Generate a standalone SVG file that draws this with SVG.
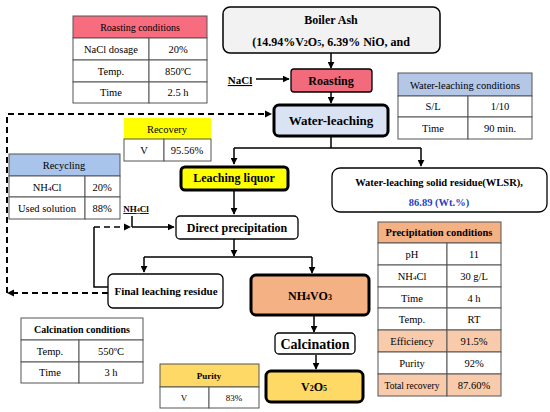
<svg xmlns="http://www.w3.org/2000/svg" width="550" height="412" viewBox="0 0 550 412">
<defs>
<marker id="ah" viewBox="0 0 10 10" refX="9" refY="5" markerWidth="7" markerHeight="7" markerUnits="userSpaceOnUse" orient="auto"><path d="M0,0 L10,5 L0,10 z" fill="#000"/></marker>
<style>
text{font-family:"Liberation Serif","Times New Roman",serif;fill:#000;text-anchor:middle}
.b{font-weight:bold;font-size:12px}
.t{font-size:10.5px}
.tb{font-size:10.5px;font-weight:bold}
.node{stroke:#000;stroke-width:1.3}
.thick{stroke:#000;stroke-width:3}
.cell{fill:#fff;stroke:#555;stroke-width:1}
.ln{fill:none;stroke:#000;stroke-width:1.5}
.dash{fill:none;stroke:#000;stroke-width:2;stroke-dasharray:6,4}
</style>
</defs>
<rect width="550" height="412" fill="#fff"/>

<g id="connectors">
<line class="ln" x1="331" y1="53" x2="331" y2="68" marker-end="url(#ah)"/>
<line class="ln" x1="256" y1="79" x2="289" y2="79" marker-end="url(#ah)"/>
<line class="ln" x1="331" y1="92" x2="331" y2="103" marker-end="url(#ah)"/>
<path class="dash" d="M108,293 H8 M7,293 V114 H270"/>
<path d="M272,114 l-7,-3.5 v7 z"/>
<path d="M7,293 l7,-3.5 v7 z"/>
<path class="ln" d="M331,137 V148 M234,148 H421"/>
<line class="ln" x1="234" y1="148" x2="234" y2="164" marker-end="url(#ah)"/>
<line class="ln" x1="421" y1="148" x2="421" y2="166" marker-end="url(#ah)"/>
<line class="ln" x1="234" y1="191" x2="234" y2="214" marker-end="url(#ah)"/>
<line class="ln" x1="132" y1="216" x2="132" y2="227"/>
<line class="ln" x1="132" y1="227" x2="174" y2="227" marker-end="url(#ah)"/>
<line class="dash" x1="94" y1="227" x2="124" y2="227" style="stroke-width:1.5"/>
<path d="M131,227 l-7,-3.5 v7 z"/>
<path class="ln" d="M108,287 H94 V227"/>
<line class="ln" x1="234" y1="239" x2="234" y2="256" marker-end="url(#ah)"/>
<path class="ln" d="M144,257 H312"/>
<line class="ln" x1="144" y1="257" x2="144" y2="272" marker-end="url(#ah)"/>
<line class="ln" x1="312" y1="257" x2="312" y2="273" marker-end="url(#ah)"/>
<line class="ln" x1="314" y1="316" x2="314" y2="332" marker-end="url(#ah)"/>
<line class="ln" x1="316" y1="355" x2="316" y2="369" marker-end="url(#ah)"/>
</g>

<g id="boiler-ash">
<rect class="node" x="223" y="7" width="217" height="46" rx="7" fill="#f2f2f2" style="stroke-width:1.5"/>
<text class="b" x="331" y="24">Boiler Ash</text>
<text class="b" x="331" y="46">(14.94%V<tspan font-size="8">2</tspan>O<tspan font-size="8">5</tspan>, 6.39% NiO, and</text>
</g>

<g id="nacl">
<text class="b" x="240" y="84" text-decoration="underline" style="font-size:11px">NaCl</text>
</g>

<g id="roasting">
<rect class="node" x="291" y="69" width="81" height="23" rx="3" fill="#f26b7c"/>
<text class="b" x="331" y="85">Roasting</text>
</g>

<g id="water-leaching">
<rect class="thick" x="274" y="105" width="114" height="31" rx="5" fill="#dae3f3"/>
<text class="b" x="331" y="125" style="font-size:13px">Water-leaching</text>
</g>

<g id="leaching-liquor">
<rect class="thick" x="181" y="167" width="107" height="23" rx="4" fill="#ffff00"/>
<text class="b" x="234" y="182">Leaching liquor</text>
</g>

<g id="wlsr">
<rect class="node" x="332" y="168" width="215" height="44" rx="8" fill="#fff"/>
<text class="b" x="439" y="186" style="font-size:10.5px">Water-leaching solid residue(WLSR),</text>
<text class="b" x="439" y="206" style="font-size:10.5px;fill:#1f3fbf">86.89 (Wt.%)</text>
</g>

<g id="nh4cl-label">
<text class="tb" x="136" y="212" text-decoration="underline" style="font-size:9px">NH<tspan font-size="6">4</tspan>Cl</text>
</g>

<g id="direct-precipitation">
<rect class="node" x="176" y="216" width="122" height="23" rx="4" fill="#fff"/>
<text class="b" x="237" y="232">Direct precipitation</text>
</g>

<g id="final-leaching-residue">
<rect class="node" x="108" y="274" width="115" height="34" rx="5" fill="#fff"/>
<text class="b" x="166" y="295" style="font-size:11px">Final leaching residue</text>
</g>

<g id="nh4vo3">
<rect class="thick" x="251" y="275" width="118" height="40" rx="5" fill="#f4b183"/>
<text class="b" x="310" y="300">NH<tspan font-size="8">4</tspan>VO<tspan font-size="8">3</tspan></text>
</g>

<g id="calcination">
<rect class="node" x="275" y="333" width="80" height="21" rx="4" fill="#fff"/>
<text class="b" x="315" y="349" style="font-size:14px">Calcination</text>
</g>

<g id="v2o5">
<rect class="thick" x="266" y="371" width="97" height="31" rx="5" fill="#ffd966"/>
<text class="b" x="314" y="391">V<tspan font-size="8">2</tspan>O<tspan font-size="8">5</tspan></text>
</g>

<g id="roasting-conditions">
<rect class="cell" x="73" y="16" width="134" height="22" style="fill:#f76c7f"/>
<rect class="cell" x="73" y="38" width="76" height="22"/><rect class="cell" x="149" y="38" width="58" height="22"/>
<rect class="cell" x="73" y="60" width="76" height="22"/><rect class="cell" x="149" y="60" width="58" height="22"/>
<rect class="cell" x="73" y="82" width="76" height="21"/><rect class="cell" x="149" y="82" width="58" height="21"/>
<text class="t" x="140" y="31" style="font-size:10px">Roasting conditions</text>
<text class="t" x="111" y="53">NaCl dosage</text><text class="t" x="178" y="53">20%</text>
<text class="t" x="111" y="75">Temp.</text><text class="t" x="178" y="75">850ºC</text>
<text class="t" x="111" y="96">Time</text><text class="t" x="178" y="96">2.5 h</text>
</g>

<g id="water-leaching-conditions">
<rect class="cell" x="398" y="73" width="134" height="23" style="fill:#b4c7e7"/>
<rect class="cell" x="398" y="96" width="70" height="21"/><rect class="cell" x="468" y="96" width="64" height="21"/>
<rect class="cell" x="398" y="117" width="70" height="22"/><rect class="cell" x="468" y="117" width="64" height="22"/>
<text class="t" x="465" y="89">Water-leaching conditions</text>
<text class="t" x="433" y="110">S/L</text><text class="t" x="500" y="110">1/10</text>
<text class="t" x="433" y="132">Time</text><text class="t" x="500" y="132">90 min.</text>
</g>

<g id="recovery">
<rect x="124" y="118" width="87" height="21" fill="#ffff00"/>
<rect class="cell" x="124" y="139" width="40" height="22"/><rect class="cell" x="164" y="139" width="47" height="22"/>
<text class="t" x="167" y="133">Recovery</text>
<text class="t" x="144" y="154">V</text><text class="t" x="187" y="154">95.56%</text>
</g>

<g id="recycling">
<rect class="cell" x="9" y="154" width="111" height="22" style="fill:#a9c4eb"/>
<rect class="cell" x="9" y="176" width="76" height="21"/><rect class="cell" x="85" y="176" width="35" height="21"/>
<rect class="cell" x="9" y="197" width="76" height="22"/><rect class="cell" x="85" y="197" width="35" height="22"/>
<text class="t" x="64" y="169">Recycling</text>
<text class="t" x="47" y="191">NH<tspan font-size="7">4</tspan>Cl</text><text class="t" x="102" y="191">20%</text>
<text class="t" x="47" y="212">Used solution</text><text class="t" x="102" y="212">88%</text>
</g>

<g id="precipitation-conditions">
<rect class="cell" x="378" y="222" width="123" height="21" style="fill:#f4b183"/>
<rect class="cell" x="378" y="243" width="69" height="22"/><rect class="cell" x="447" y="243" width="54" height="22"/>
<rect class="cell" x="378" y="265" width="69" height="22"/><rect class="cell" x="447" y="265" width="54" height="22"/>
<rect class="cell" x="378" y="287" width="69" height="21"/><rect class="cell" x="447" y="287" width="54" height="21"/>
<rect class="cell" x="378" y="308" width="69" height="22"/><rect class="cell" x="447" y="308" width="54" height="22"/>
<rect class="cell" x="378" y="330" width="69" height="22" style="fill:#f8cbad"/><rect class="cell" x="447" y="330" width="54" height="22" style="fill:#f8cbad"/>
<rect class="cell" x="378" y="352" width="69" height="22"/><rect class="cell" x="447" y="352" width="54" height="22"/>
<rect class="cell" x="378" y="374" width="69" height="22" style="fill:#f8cbad"/><rect class="cell" x="447" y="374" width="54" height="22" style="fill:#f8cbad"/>
<text class="tb" x="439" y="236">Precipitation conditions</text>
<text class="t" x="412" y="258">pH</text><text class="t" x="474" y="258">11</text>
<text class="t" x="412" y="280">NH<tspan font-size="7">4</tspan>Cl</text><text class="t" x="474" y="280">30 g/L</text>
<text class="t" x="412" y="302">Time</text><text class="t" x="474" y="302">4 h</text>
<text class="t" x="412" y="323">Temp.</text><text class="t" x="474" y="323">RT</text>
<text class="t" x="412" y="345">Efficiency</text><text class="t" x="474" y="345">91.5%</text>
<text class="t" x="412" y="367">Purity</text><text class="t" x="474" y="367">92%</text>
<text class="t" x="412" y="389" style="font-size:9.5px">Total recovery</text><text class="t" x="474" y="389">87.60%</text>
</g>

<g id="calcination-conditions">
<rect class="cell" x="21" y="318" width="122" height="22"/>
<rect class="cell" x="21" y="340" width="58" height="22"/><rect class="cell" x="79" y="340" width="64" height="22"/>
<rect class="cell" x="21" y="362" width="58" height="21"/><rect class="cell" x="79" y="362" width="64" height="21"/>
<text class="tb" x="82" y="333" style="font-size:10px">Calcination conditions</text>
<text class="t" x="50" y="355">Temp.</text><text class="t" x="111" y="355">550ºC</text>
<text class="t" x="50" y="376">Time</text><text class="t" x="111" y="376">3 h</text>
</g>

<g id="purity">
<rect class="cell" x="160" y="364" width="99" height="23" style="fill:#ffd966"/>
<rect class="cell" x="160" y="387" width="49" height="21"/><rect class="cell" x="209" y="387" width="50" height="21"/>
<text class="tb" x="209" y="379" style="font-size:9px">Purity</text>
<text class="t" x="184" y="401" style="font-size:9px">V</text><text class="t" x="234" y="401" style="font-size:9px">83%</text>
</g>
</svg>
